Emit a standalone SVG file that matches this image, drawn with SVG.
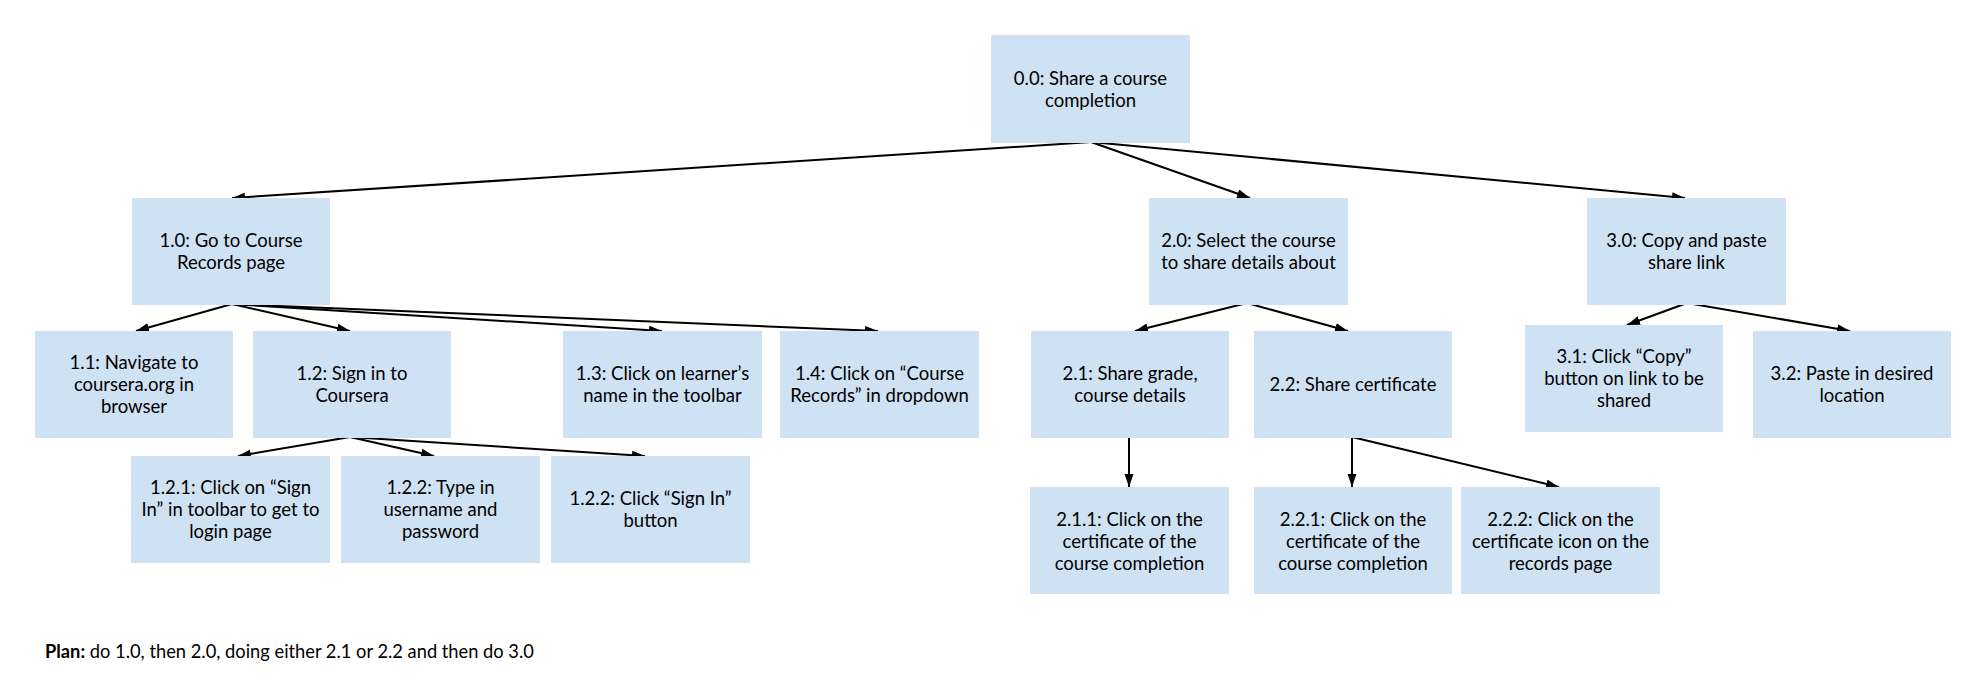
<svg xmlns="http://www.w3.org/2000/svg" width="1979" height="699" viewBox="0 0 1979 699">
<defs>
<marker id="ah" markerUnits="userSpaceOnUse" markerWidth="14" markerHeight="10" refX="13" refY="4.5" orient="auto">
<path d="M0,0 L13,4.5 L0,9 z" fill="#000"/>
</marker>
<style>
.box{fill:#cfe2f3;}
.t{font-family:Lato,"Liberation Sans",sans-serif;font-size:18.5px;fill:#000;text-anchor:middle;}
.c{stroke:#000;stroke-width:2;fill:none;marker-end:url(#ah);}
.plan{font-family:Lato,"Liberation Sans",sans-serif;font-size:18.3px;fill:#000;}
</style>
</defs>
<rect width="1979" height="699" fill="#fff"/>
<g id="connectors">
<line class="c" x1="1091" y1="142" x2="232" y2="198"/>
<line class="c" x1="1091" y1="142" x2="1250" y2="198"/>
<line class="c" x1="1091" y1="142" x2="1685" y2="198"/>
<line class="c" x1="232" y1="304" x2="136" y2="331"/>
<line class="c" x1="232" y1="304" x2="350" y2="331"/>
<line class="c" x1="232" y1="304" x2="662" y2="331"/>
<line class="c" x1="232" y1="304" x2="878" y2="331"/>
<line class="c" x1="350" y1="437" x2="238" y2="456"/>
<line class="c" x1="350" y1="437" x2="434" y2="456"/>
<line class="c" x1="350" y1="437" x2="645" y2="456"/>
<line class="c" x1="1247" y1="303" x2="1135" y2="331"/>
<line class="c" x1="1247" y1="303" x2="1348" y2="331"/>
<line class="c" x1="1129" y1="438" x2="1129" y2="487"/>
<line class="c" x1="1352" y1="437" x2="1352" y2="487"/>
<line class="c" x1="1352" y1="437" x2="1559" y2="487"/>
<line class="c" x1="1687" y1="303" x2="1627" y2="325"/>
<line class="c" x1="1687" y1="303" x2="1850" y2="331"/>
</g>
<g id="n00"><rect class="box" x="991" y="35" width="199" height="108"/><text class="t" x="1090.5" y="85">0.0: Share a course</text><text class="t" x="1090.5" y="107">completion</text></g>
<g id="n10"><rect class="box" x="132" y="198" width="198" height="107"/><text class="t" x="231" y="247">1.0: Go to Course</text><text class="t" x="231" y="269">Records page</text></g>
<g id="n20"><rect class="box" x="1149" y="198" width="199" height="107"/><text class="t" x="1248.5" y="247">2.0: Select the course</text><text class="t" x="1248.5" y="269">to share details about</text></g>
<g id="n30"><rect class="box" x="1587" y="198" width="199" height="107"/><text class="t" x="1686.5" y="247">3.0: Copy and paste</text><text class="t" x="1686.5" y="269">share link</text></g>
<g id="n11"><rect class="box" x="35" y="331" width="198" height="107"/><text class="t" x="134" y="369">1.1: Navigate to</text><text class="t" x="134" y="391">coursera.org in</text><text class="t" x="134" y="413">browser</text></g>
<g id="n12"><rect class="box" x="253" y="331" width="198" height="107"/><text class="t" x="352" y="380">1.2: Sign in to</text><text class="t" x="352" y="402">Coursera</text></g>
<g id="n13"><rect class="box" x="563" y="331" width="199" height="107"/><text class="t" x="662.5" y="380">1.3: Click on learner’s</text><text class="t" x="662.5" y="402">name in the toolbar</text></g>
<g id="n14"><rect class="box" x="780" y="331" width="199" height="107"/><text class="t" x="879.5" y="380">1.4: Click on “Course</text><text class="t" x="879.5" y="402">Records” in dropdown</text></g>
<g id="n121"><rect class="box" x="131" y="456" width="199" height="107"/><text class="t" x="230.5" y="494">1.2.1: Click on “Sign</text><text class="t" x="230.5" y="516">In” in toolbar to get to</text><text class="t" x="230.5" y="538">login page</text></g>
<g id="n122a"><rect class="box" x="341" y="456" width="199" height="107"/><text class="t" x="440.5" y="494">1.2.2: Type in</text><text class="t" x="440.5" y="516">username and</text><text class="t" x="440.5" y="538">password</text></g>
<g id="n122b"><rect class="box" x="551" y="456" width="199" height="107"/><text class="t" x="650.5" y="505">1.2.2: Click “Sign In”</text><text class="t" x="650.5" y="527">button</text></g>
<g id="n21"><rect class="box" x="1031" y="331" width="198" height="107"/><text class="t" x="1130" y="380">2.1: Share grade,</text><text class="t" x="1130" y="402">course details</text></g>
<g id="n22"><rect class="box" x="1254" y="331" width="198" height="107"/><text class="t" x="1353" y="391">2.2: Share certificate</text></g>
<g id="n211"><rect class="box" x="1030" y="487" width="199" height="107"/><text class="t" x="1129.5" y="526">2.1.1: Click on the</text><text class="t" x="1129.5" y="548">certificate of the</text><text class="t" x="1129.5" y="570">course completion</text></g>
<g id="n221"><rect class="box" x="1254" y="487" width="198" height="107"/><text class="t" x="1353" y="526">2.2.1: Click on the</text><text class="t" x="1353" y="548">certificate of the</text><text class="t" x="1353" y="570">course completion</text></g>
<g id="n222"><rect class="box" x="1461" y="487" width="199" height="107"/><text class="t" x="1560.5" y="526">2.2.2: Click on the</text><text class="t" x="1560.5" y="548">certificate icon on the</text><text class="t" x="1560.5" y="570">records page</text></g>
<g id="n31"><rect class="box" x="1525" y="325" width="198" height="107"/><text class="t" x="1624" y="363">3.1: Click “Copy”</text><text class="t" x="1624" y="385">button on link to be</text><text class="t" x="1624" y="407">shared</text></g>
<g id="n32"><rect class="box" x="1753" y="331" width="198" height="107"/><text class="t" x="1852" y="380">3.2: Paste in desired</text><text class="t" x="1852" y="402">location</text></g>
<text class="plan" x="45" y="658"><tspan font-weight="bold">Plan:</tspan> do 1.0, then 2.0, doing either 2.1 or 2.2 and then do 3.0</text>
</svg>
